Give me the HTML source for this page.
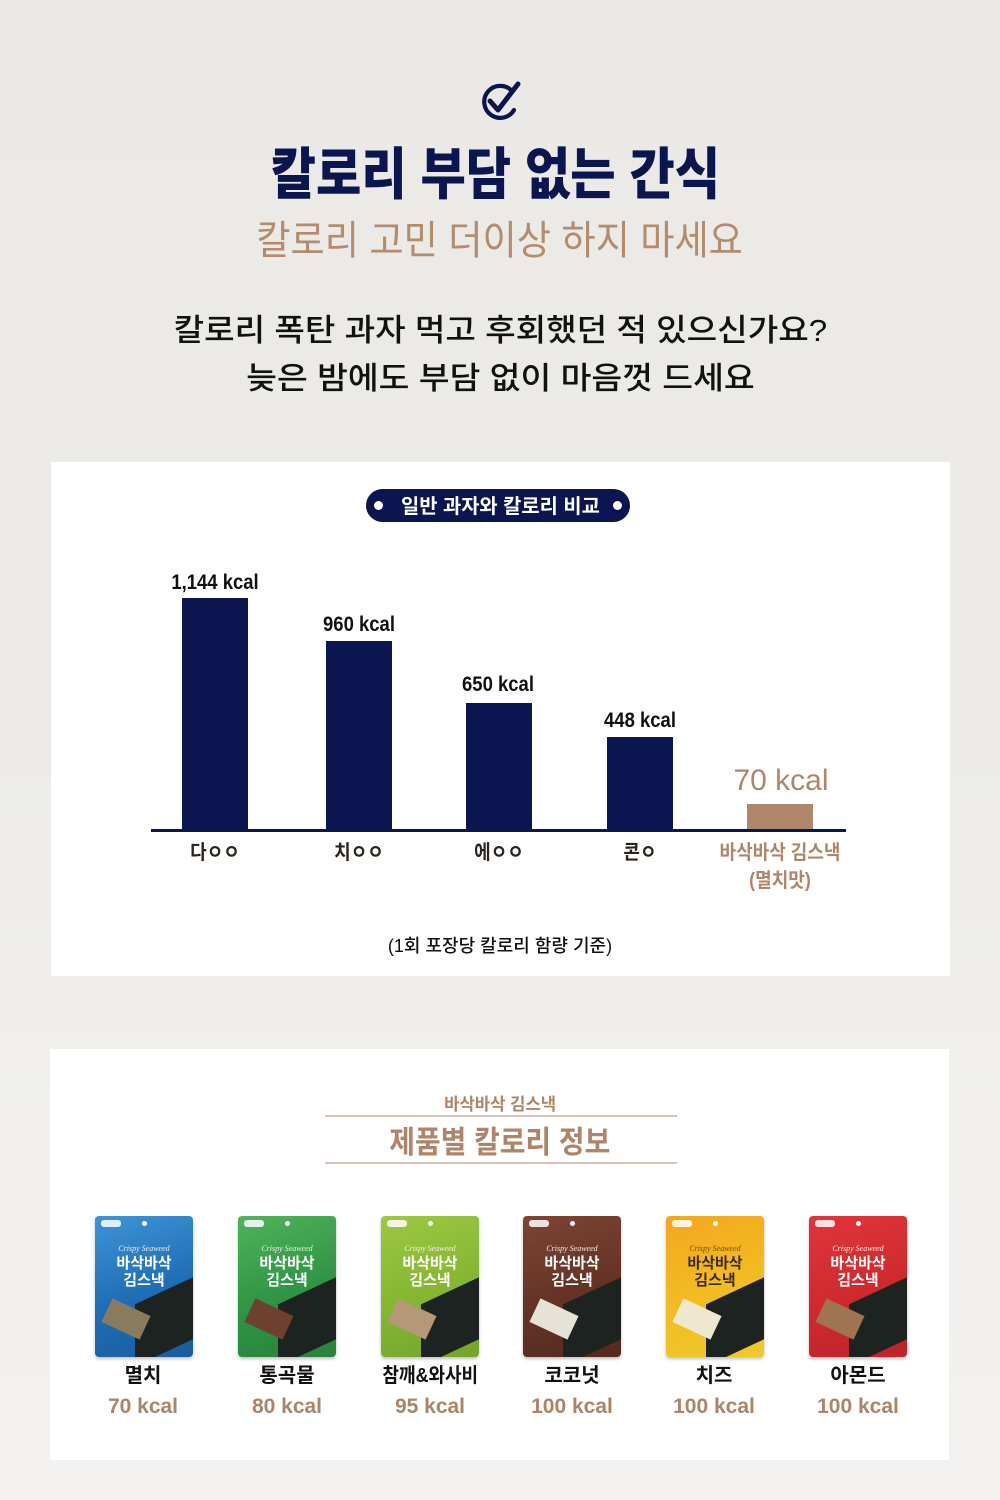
<!DOCTYPE html>
<html lang="ko">
<head>
<meta charset="utf-8">
<style>
  html,body{margin:0;padding:0;}
  body{width:1000px;height:1500px;position:relative;overflow:hidden;
    background:linear-gradient(180deg,#ebe9e5 0%,#ecebe7 50%,#f1f0ed 75%,#f2f1ef 100%);
    font-family:"Liberation Sans","Noto Sans CJK KR",sans-serif;}
  .abs{position:absolute;}
  .c{left:0;width:1000px;text-align:center;white-space:nowrap;}
  .kr{font-family:"Liberation Sans","Noto Sans CJK KR",sans-serif;}
  .card{position:absolute;background:#fff;}
  .bar{position:absolute;background:#0b1651;width:66px;}
  .val{position:absolute;width:160px;text-align:center;font-size:21px;color:#111;font-weight:700;transform:scaleX(0.88);white-space:nowrap;line-height:1;}
  .cat{position:absolute;width:160px;text-align:center;font-size:20px;color:#2b241d;font-weight:700;white-space:nowrap;line-height:1;transform:scaleX(0.9);}
  .pack{position:absolute;top:1216px;width:98px;height:141px;border-radius:4px;overflow:hidden;box-shadow:0 2px 3px rgba(0,0,0,0.25);}
  .pack .t1{position:absolute;left:0;width:98px;top:28px;text-align:center;font-size:8px;font-style:italic;color:#f3efe0;font-family:"Liberation Serif",serif;}
  .pack .t2{position:absolute;left:0;width:98px;top:38px;text-align:center;font-size:15px;font-weight:700;color:#fff;line-height:17px;font-family:"Noto Sans CJK KR",sans-serif;}
  .pack .sw{position:absolute;left:40px;top:72px;width:70px;height:62px;background:#1c2320;transform:skewY(-25deg);}
  .pack .sn{position:absolute;left:10px;top:90px;width:42px;height:26px;transform:rotate(25deg);}
  .pack .hole{position:absolute;left:47px;top:5px;width:5px;height:5px;border-radius:50%;background:#fff;}
  .pack .logo{position:absolute;left:6px;top:4px;width:20px;height:7px;border-radius:3px;background:rgba(255,255,255,0.85);}
  .pname{position:absolute;top:1366px;width:160px;text-align:center;font-size:20px;font-weight:700;color:#111;line-height:1;white-space:nowrap;}
  .pk{position:absolute;top:1396px;width:160px;text-align:center;font-size:21px;color:#ad8466;line-height:1;white-space:nowrap;font-weight:700;}
</style>
</head>
<body>

<!-- check icon -->
<svg class="abs" style="left:476px;top:80px" width="48" height="46" viewBox="476 80 48 46">
  <path d="M512 91 A16 16 0 1 0 514 110" fill="none" stroke="#0b1651" stroke-width="4.2" stroke-linecap="round"/>
  <path d="M490 101 L498 110 L518 84" fill="none" stroke="#0b1651" stroke-width="5" stroke-linecap="round" stroke-linejoin="round"/>
</svg>

<div class="abs c" style="top:138px;left:-5px;font-size:56px;font-weight:900;color:#0b1651;line-height:66px;">
  <span style="display:inline-block;transform:scaleX(0.88);font-family:'Noto Sans CJK KR',sans-serif;">칼로리 부담 없는 간식</span>
</div>
<div class="abs c" style="top:212px;font-size:40px;font-weight:400;color:#b38b6e;line-height:50px;">
  <span style="display:inline-block;transform:scaleX(0.93);font-family:'Noto Sans CJK KR',sans-serif;">칼로리 고민 더이상 하지 마세요</span>
</div>

<div class="abs c kr" style="top:311px;font-size:31px;color:#111;line-height:40px;font-weight:500;">
  <span style="display:inline-block;transform:scaleX(1.07);">칼로리 폭탄 과자 먹고 후회했던 적 있으신가요?</span>
</div>
<div class="abs c kr" style="top:359px;font-size:31px;color:#111;line-height:40px;font-weight:500;">
  <span style="display:inline-block;transform:scaleX(1.08);">늦은 밤에도 부담 없이 마음껏 드세요</span>
</div>

<!-- card 1 -->
<div class="card" style="left:51px;top:462px;width:899px;height:514px;"></div>

<div class="abs" style="left:366px;top:489px;width:264px;height:33px;border-radius:17px;background:#0b1651;"></div>
<div class="abs" style="left:374px;top:501px;width:9px;height:9px;border-radius:50%;background:#fff;"></div>
<div class="abs" style="left:613px;top:501px;width:9px;height:9px;border-radius:50%;background:#fff;"></div>
<div class="abs c" style="top:492px;font-size:20px;font-weight:700;color:#fff;line-height:26px;">
  <span style="display:inline-block;transform:scaleX(0.99);font-family:'Noto Sans CJK KR',sans-serif;">일반 과자와 칼로리 비교</span>
</div>

<!-- bars -->
<div class="bar" style="left:182px;top:598px;height:233px;"></div>
<div class="bar" style="left:326px;top:641px;height:190px;"></div>
<div class="bar" style="left:466px;top:703px;height:128px;"></div>
<div class="bar" style="left:607px;top:737px;height:94px;"></div>
<div class="bar" style="left:747px;top:804px;height:27px;background:#b0866a;"></div>
<div class="abs" style="left:151px;top:829px;width:695px;height:3px;background:#0b1651;"></div>

<div class="val" style="left:135px;top:572px;">1,144 kcal</div>
<div class="val" style="left:279px;top:614px;">960 kcal</div>
<div class="val" style="left:418px;top:674px;">650 kcal</div>
<div class="val" style="left:560px;top:710px;">448 kcal</div>
<div class="val" style="left:701px;top:766px;font-size:30px;color:#b0866a;font-weight:400;transform:scaleX(1.0);">70 kcal</div>

<div class="cat" style="left:135px;top:843px;">다ㅇㅇ</div>
<div class="cat" style="left:279px;top:843px;">치ㅇㅇ</div>
<div class="cat" style="left:419px;top:843px;">에ㅇㅇ</div>
<div class="cat" style="left:560px;top:843px;">콘ㅇ</div>
<div class="cat" style="left:700px;top:843px;color:#b0866a;">바삭바삭 김스낵</div>
<div class="cat" style="left:700px;top:871px;color:#b0866a;">(멸치맛)</div>

<div class="abs c kr" style="top:935px;font-size:18px;color:#111;line-height:22px;font-weight:500;">
  <span style="display:inline-block;transform:scaleX(1.0);">(1회 포장당 칼로리 함량 기준)</span>
</div>

<!-- card 2 -->
<div class="card" style="left:50px;top:1049px;width:899px;height:411px;"></div>

<div class="abs c" style="top:1092px;font-size:17px;font-weight:700;color:#b08468;line-height:22px;">
  <span style="display:inline-block;transform:scaleX(0.98);font-family:'Noto Sans CJK KR',sans-serif;">바삭바삭 김스낵</span>
</div>
<div class="abs" style="left:325px;top:1115px;width:352px;height:2px;background:#d8c3b4;"></div>
<div class="abs c" style="top:1121px;font-size:31px;font-weight:700;color:#b08468;line-height:38px;">
  <span style="display:inline-block;transform:scaleX(0.9);font-family:'Noto Sans CJK KR',sans-serif;">제품별 칼로리 정보</span>
</div>
<div class="abs" style="left:325px;top:1162px;width:352px;height:2px;background:#d8c3b4;"></div>

<!-- packs -->
<div class="pack" style="left:95px;background:linear-gradient(160deg,#3d95d6 0%,#1f6db4 55%,#1a5c9e 100%);">
  <div class="logo"></div><div class="hole"></div>
  <div class="t1">Crispy Seaweed</div><div class="t2">바삭바삭<br>김스낵</div>
  <div class="sw"></div><div class="sn" style="background:#8a7a5e;"></div>
</div>
<div class="pack" style="left:238px;background:linear-gradient(160deg,#4fb35a 0%,#2f9444 55%,#28823b 100%);">
  <div class="logo"></div><div class="hole"></div>
  <div class="t1">Crispy Seaweed</div><div class="t2">바삭바삭<br>김스낵</div>
  <div class="sw"></div><div class="sn" style="background:#6d4030;"></div>
</div>
<div class="pack" style="left:381px;background:linear-gradient(160deg,#9cc843 0%,#84b632 55%,#74a42c 100%);">
  <div class="logo"></div><div class="hole"></div>
  <div class="t1">Crispy Seaweed</div><div class="t2">바삭바삭<br>김스낵</div>
  <div class="sw"></div><div class="sn" style="background:#b49878;"></div>
</div>
<div class="pack" style="left:523px;background:linear-gradient(160deg,#7d4434 0%,#643326 55%,#55291f 100%);">
  <div class="logo"></div><div class="hole"></div>
  <div class="t1">Crispy Seaweed</div><div class="t2">바삭바삭<br>김스낵</div>
  <div class="sw"></div><div class="sn" style="background:#e6e2d8;"></div>
</div>
<div class="pack" style="left:666px;background:linear-gradient(160deg,#f4a71e 0%,#f1bd22 55%,#efc92a 100%);">
  <div class="logo"></div><div class="hole"></div>
  <div class="t1" style="color:#7a4a10;">Crispy Seaweed</div><div class="t2" style="color:#3a2a1a;">바삭바삭<br>김스낵</div>
  <div class="sw"></div><div class="sn" style="background:#efe8cf;"></div>
</div>
<div class="pack" style="left:809px;background:linear-gradient(160deg,#e0353a 0%,#cf2a2e 55%,#bb2428 100%);">
  <div class="logo"></div><div class="hole"></div>
  <div class="t1">Crispy Seaweed</div><div class="t2">바삭바삭<br>김스낵</div>
  <div class="sw"></div><div class="sn" style="background:#a07450;"></div>
</div>

<div class="pname" style="left:63px;">멸치</div>
<div class="pname" style="left:207px;">통곡물</div>
<div class="pname" style="left:350px;"><span style="display:inline-block;transform:scaleX(0.9);">참깨&amp;와사비</span></div>
<div class="pname" style="left:492px;">코코넛</div>
<div class="pname" style="left:634px;">치즈</div>
<div class="pname" style="left:778px;">아몬드</div>

<div class="pk" style="left:63px;">70 kcal</div>
<div class="pk" style="left:207px;">80 kcal</div>
<div class="pk" style="left:350px;">95 kcal</div>
<div class="pk" style="left:492px;">100 kcal</div>
<div class="pk" style="left:634px;">100 kcal</div>
<div class="pk" style="left:778px;">100 kcal</div>

</body>
</html>
